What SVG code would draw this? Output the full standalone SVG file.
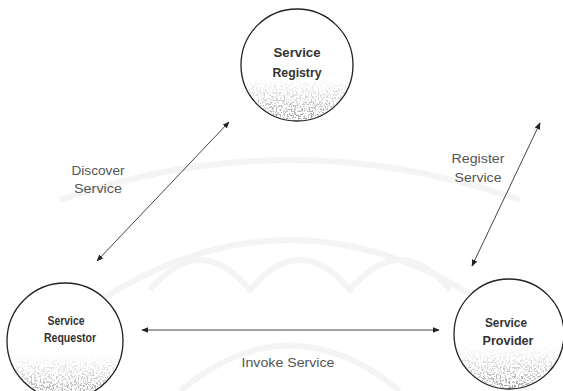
<svg xmlns="http://www.w3.org/2000/svg" width="563" height="391" viewBox="0 0 563 391">
<style>
.node{fill:#fff;stroke:#222;stroke-width:1.3}
.nl{font-family:"Liberation Sans",Arial,sans-serif;font-weight:bold;font-size:12px;fill:#333;text-anchor:middle}
.el{font-family:"Liberation Sans",Arial,sans-serif;font-size:12.5px;fill:#555;text-anchor:middle}
.conn{stroke:#444;stroke-width:1;fill:none;marker-start:url(#ah);marker-end:url(#ah)}
.wm{fill:none;stroke:#f4f4f4;stroke-width:6}
</style>
<defs>
<marker id="ah" viewBox="0 0 10 10" refX="9" refY="5" markerWidth="7" markerHeight="7" orient="auto-start-reverse" markerUnits="userSpaceOnUse">
<path d="M0,1 L10,5 L0,9 z" fill="#222"/>
</marker>
<linearGradient id="fade" x1="0" y1="0" x2="0" y2="1">
<stop offset="0.62" stop-color="#000" stop-opacity="0"/>
<stop offset="0.82" stop-color="#000" stop-opacity="0.5"/>
<stop offset="1" stop-color="#000" stop-opacity="1"/>
</linearGradient>
<filter id="speck" x="0" y="0" width="1" height="1">
<feTurbulence type="fractalNoise" baseFrequency="0.55" numOctaves="2" seed="4" result="n"/>
<feColorMatrix in="n" type="matrix" values="0 0 0 0 0.35  0 0 0 0 0.35  0 0 0 0 0.35  10 0 0 0 -5" result="s"/>
<feComposite in="s" in2="SourceGraphic" operator="in"/>
</filter>
</defs>
<rect width="563" height="391" fill="#fff"/>
<g id="watermark">
<path class="wm" d="M60,200 Q290,120 520,200"/>
<path class="wm" d="M150,290 Q200,230 250,290 Q300,230 350,290 Q400,230 450,290"/>
<path class="wm" d="M100,300 Q290,180 480,300"/>
<path class="wm" d="M180,391 Q290,300 400,391"/>
</g>
<g id="connectors">
<line class="conn" x1="97" y1="261" x2="229" y2="122"/>
<line class="conn" x1="540" y1="123" x2="472" y2="266"/>
<line class="conn" x1="142" y1="330" x2="439" y2="330"/>
</g>
<g id="registry">
<circle class="node" cx="297" cy="65" r="56"/>
<circle cx="297" cy="65" r="55" fill="url(#fade)" filter="url(#speck)"/>
<text class="nl" x="297" y="57" textLength="47" lengthAdjust="spacingAndGlyphs">Service</text>
<text class="nl" x="297" y="77" textLength="49" lengthAdjust="spacingAndGlyphs">Registry</text>
</g>
<g id="requestor">
<circle class="node" cx="65" cy="341" r="58"/>
<circle cx="65" cy="341" r="57" fill="url(#fade)" filter="url(#speck)"/>
<text class="nl" x="66" y="325" textLength="37" lengthAdjust="spacingAndGlyphs">Service</text>
<text class="nl" x="70" y="342" textLength="52" lengthAdjust="spacingAndGlyphs">Requestor</text>
</g>
<g id="provider">
<circle class="node" cx="509" cy="334" r="55"/>
<circle cx="509" cy="334" r="54" fill="url(#fade)" filter="url(#speck)"/>
<text class="nl" x="506" y="327" textLength="42" lengthAdjust="spacingAndGlyphs">Service</text>
<text class="nl" x="508" y="345" textLength="51" lengthAdjust="spacingAndGlyphs">Provider</text>
</g>
<g id="labels">
<text class="el" x="98" y="175" textLength="53" lengthAdjust="spacingAndGlyphs">Discover</text>
<text class="el" x="98" y="193" textLength="48" lengthAdjust="spacingAndGlyphs">Service</text>
<text class="el" x="478" y="163" textLength="53" lengthAdjust="spacingAndGlyphs">Register</text>
<text class="el" x="478" y="182" textLength="47" lengthAdjust="spacingAndGlyphs">Service</text>
<text class="el" x="288" y="367" textLength="93" lengthAdjust="spacingAndGlyphs">Invoke Service</text>
</g>
</svg>
